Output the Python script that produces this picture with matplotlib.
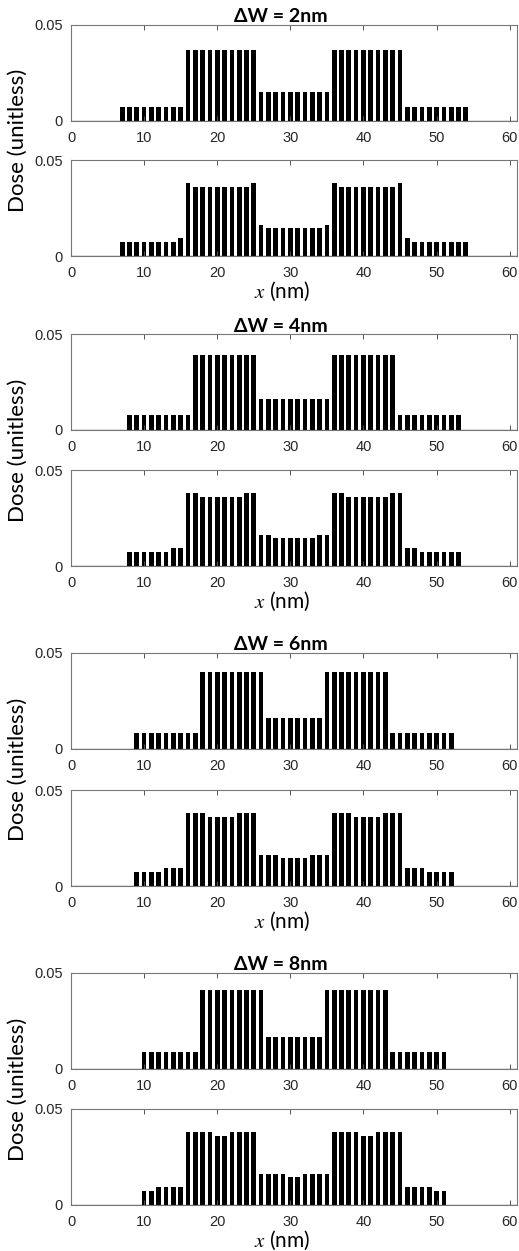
import numpy as np
import matplotlib.pyplot as plt

# dose per 1 nm pixel, two rows per line-width step (top: ideal, bottom: corrected)
dw_labels = ['2', '4', '6', '8']
x_first = [7, 8, 9, 10]

dose_2_top = [0.0074, 0.0074, 0.0074, 0.0074, 0.0074, 0.0074, 0.0074, 0.0074, 0.0074,
              0.0368, 0.0368, 0.0368, 0.0368, 0.0368, 0.0368, 0.0368, 0.0368, 0.0368, 0.0368,
              0.0149, 0.0149, 0.0149, 0.0149, 0.0149, 0.0149, 0.0149, 0.0149, 0.0149, 0.0149,
              0.0368, 0.0368, 0.0368, 0.0368, 0.0368, 0.0368, 0.0368, 0.0368, 0.0368, 0.0368,
              0.0074, 0.0074, 0.0074, 0.0074, 0.0074, 0.0074, 0.0074, 0.0074, 0.0074]
dose_2_bot = [0.0074, 0.0074, 0.0074, 0.0074, 0.0074, 0.0074, 0.0074, 0.0074, 0.0093,
              0.0379, 0.0360, 0.0360, 0.0360, 0.0360, 0.0360, 0.0360, 0.0360, 0.0360, 0.0379,
              0.0164, 0.0146, 0.0146, 0.0146, 0.0146, 0.0146, 0.0146, 0.0146, 0.0146, 0.0164,
              0.0379, 0.0360, 0.0360, 0.0360, 0.0360, 0.0360, 0.0360, 0.0360, 0.0360, 0.0379,
              0.0093, 0.0074, 0.0074, 0.0074, 0.0074, 0.0074, 0.0074, 0.0074, 0.0074]

dose_4_top = [0.0078, 0.0078, 0.0078, 0.0078, 0.0078, 0.0078, 0.0078, 0.0078, 0.0078,
              0.0392, 0.0392, 0.0392, 0.0392, 0.0392, 0.0392, 0.0392, 0.0392, 0.0392,
              0.0160, 0.0160, 0.0160, 0.0160, 0.0160, 0.0160, 0.0160, 0.0160, 0.0160, 0.0160,
              0.0392, 0.0392, 0.0392, 0.0392, 0.0392, 0.0392, 0.0392, 0.0392, 0.0392,
              0.0078, 0.0078, 0.0078, 0.0078, 0.0078, 0.0078, 0.0078, 0.0078, 0.0078]
dose_4_bot = [0.0074, 0.0074, 0.0074, 0.0074, 0.0074, 0.0074, 0.0093, 0.0093,
              0.0379, 0.0379, 0.0360, 0.0360, 0.0360, 0.0360, 0.0360, 0.0360, 0.0379, 0.0379,
              0.0164, 0.0164, 0.0146, 0.0146, 0.0146, 0.0146, 0.0146, 0.0146, 0.0164, 0.0164,
              0.0379, 0.0379, 0.0360, 0.0360, 0.0360, 0.0360, 0.0360, 0.0360, 0.0379, 0.0379,
              0.0093, 0.0093, 0.0074, 0.0074, 0.0074, 0.0074, 0.0074, 0.0074]

dose_6_top = [0.0081, 0.0081, 0.0081, 0.0081, 0.0081, 0.0081, 0.0081, 0.0081, 0.0081,
              0.0403, 0.0403, 0.0403, 0.0403, 0.0403, 0.0403, 0.0403, 0.0403, 0.0403,
              0.0164, 0.0164, 0.0164, 0.0164, 0.0164, 0.0164, 0.0164, 0.0164,
              0.0403, 0.0403, 0.0403, 0.0403, 0.0403, 0.0403, 0.0403, 0.0403, 0.0403,
              0.0081, 0.0081, 0.0081, 0.0081, 0.0081, 0.0081, 0.0081, 0.0081, 0.0081]
dose_6_bot = [0.0074, 0.0074, 0.0074, 0.0074, 0.0093, 0.0093, 0.0093,
              0.0379, 0.0379, 0.0379, 0.0360, 0.0360, 0.0360, 0.0360, 0.0379, 0.0379, 0.0379,
              0.0164, 0.0164, 0.0164, 0.0146, 0.0146, 0.0146, 0.0146, 0.0164, 0.0164, 0.0164,
              0.0379, 0.0379, 0.0379, 0.0360, 0.0360, 0.0360, 0.0360, 0.0379, 0.0379, 0.0379,
              0.0093, 0.0093, 0.0093, 0.0074, 0.0074, 0.0074, 0.0074]

dose_8_top = [0.0086, 0.0086, 0.0086, 0.0086, 0.0086, 0.0086, 0.0086, 0.0086,
              0.0410, 0.0410, 0.0410, 0.0410, 0.0410, 0.0410, 0.0410, 0.0410, 0.0410,
              0.0167, 0.0167, 0.0167, 0.0167, 0.0167, 0.0167, 0.0167, 0.0167,
              0.0410, 0.0410, 0.0410, 0.0410, 0.0410, 0.0410, 0.0410, 0.0410, 0.0410,
              0.0086, 0.0086, 0.0086, 0.0086, 0.0086, 0.0086, 0.0086, 0.0086]
dose_8_bot = [0.0074, 0.0074, 0.0093, 0.0093, 0.0093, 0.0093,
              0.0379, 0.0379, 0.0379, 0.0379, 0.0360, 0.0360, 0.0379, 0.0379, 0.0379, 0.0379,
              0.0164, 0.0164, 0.0164, 0.0164, 0.0146, 0.0146, 0.0164, 0.0164, 0.0164, 0.0164,
              0.0379, 0.0379, 0.0379, 0.0379, 0.0360, 0.0360, 0.0379, 0.0379, 0.0379, 0.0379,
              0.0093, 0.0093, 0.0093, 0.0093, 0.0074, 0.0074]

doses = [(dose_2_top, dose_2_bot), (dose_4_top, dose_4_bot),
         (dose_6_top, dose_6_bot), (dose_8_top, dose_8_bot)]

x_ticks = [0, 10, 20, 30, 40, 50, 60]
y_ticks = [0, 0.05]
y_ticklabels = ['0', '0.05']

label_font = ['Lato', 'DejaVu Sans']
plt.rcParams['mathtext.fontset'] = 'stix'

W, H = 519, 1251
fig = plt.figure(figsize=(W / 100, H / 100), dpi=100)

# axes tops in pixels, 2 per group
tops = [25, 160, 334, 470, 653, 790, 973, 1109]
ax_h = 96
ax_l, ax_r = 71, 517


def style_axes(ax):
    ax.set_xlim(0, 61)
    ax.set_ylim(0, 0.05)
    ax.set_xticks(x_ticks)
    ax.set_yticks(y_ticks)
    ax.set_yticklabels(y_ticklabels)
    ax.tick_params(direction='in', length=3.5, width=0.7, color='#555555',
                   top=True, right=True, labelsize=10.5, labelcolor='#262626')
    ax.tick_params(axis='x', pad=7)
    ax.tick_params(axis='y', pad=6)
    for s in ax.spines.values():
        s.set_color('#777777')
        s.set_linewidth(0.8)
    for lab in ax.get_xticklabels() + ax.get_yticklabels():
        lab.set_family('Liberation Sans')


for g, (top_vals, bot_vals) in enumerate(doses):
    for k, vals in enumerate([top_vals, bot_vals]):
        t = tops[2 * g + k]
        ax = fig.add_axes([ax_l / W, 1 - (t + ax_h) / H, (ax_r - ax_l) / W, ax_h / H])
        xs = np.arange(x_first[g], x_first[g] + len(vals))
        ax.bar(xs, vals, width=0.64, color='black', linewidth=0)
        ax.axhline(0, color='#222222', lw=0.9, zorder=3)
        style_axes(ax)

    # group title, shared y label and x label
    t_top = tops[2 * g]
    t_bot = tops[2 * g + 1]
    fig.text(281 / W, 1 - (t_top - 8) / H, '\u0394W = ' + dw_labels[g] + 'nm',
             ha='center', va='center', fontsize=14, fontweight='bold', family=label_font)
    y_mid = ((t_top + ax_h) + t_bot) / 2
    fig.text(18 / W, 1 - y_mid / H, 'Dose (unitless)', rotation=90,
             ha='center', va='center', fontsize=16, family=label_font)
    fig.text(282 / W, 1 - (t_bot + ax_h + 35) / H, '$x$ (nm)',
             ha='center', va='center', fontsize=15, family=label_font)

fig.savefig('out.png', dpi=100)
